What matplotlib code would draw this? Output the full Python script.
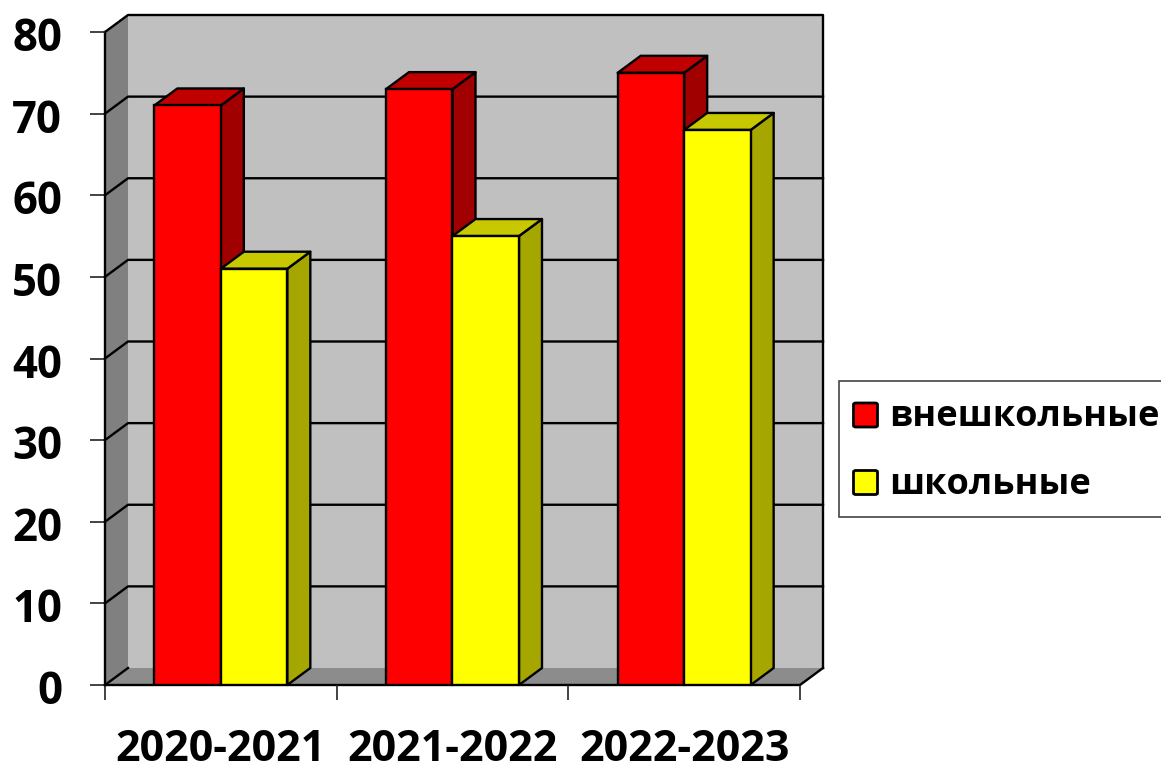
import matplotlib
matplotlib.use("Agg")
import matplotlib.pyplot as plt
from matplotlib.patches import Polygon, Rectangle, FancyBboxPatch
from matplotlib.transforms import ScaledTranslation

categories = ["2020-2021", "2021-2022", "2022-2023"]
series_names = ["внешкольные", "школьные"]
vneshkolnye = [71, 73, 75]
shkolnye = [51, 55, 68]
y_ticks = [0, 10, 20, 30, 40, 50, 60, 70, 80]

W, H = 1161, 765
FONT = ["Open Sans", "DejaVu Sans"]
plt.rcParams["font.family"] = FONT

fig = plt.figure(figsize=(W / 100, H / 100), dpi=100)
L, R, B, T = 105, 800, 685, 32
ax = fig.add_axes([L / W, 1 - B / H, (R - L) / W, (B - T) / H])
ax.set_xlim(0, 3)
ax.set_ylim(0, 80)
ax.patch.set_visible(False)
for s in ax.spines.values():
    s.set_visible(False)

DX = 23 / ((R - L) / 3)
DY = 17 / ((B - T) / 80)
LW = 1.7
EC = "black"


def poly(pts, fc, z):
    ax.add_patch(Polygon(pts, closed=True, fc=fc, ec=EC, lw=LW, zorder=z, clip_on=False, joinstyle="round"))


# walls
ax.add_patch(Polygon([(DX, DY), (3 + DX, DY), (3 + DX, 80 + DY), (DX, 80 + DY)], closed=True,
                     fc="#c0c0c0", ec="none", zorder=1, clip_on=False))
ax.plot([0, DX, 3 + DX, 3 + DX], [80, 80 + DY, 80 + DY, DY], color=EC, lw=LW, zorder=1.2, clip_on=False)
ax.add_patch(Polygon([(0, 0), (DX, DY), (DX, 80 + DY), (0, 80)], closed=True,
                     fc="#808080", ec="none", zorder=1, clip_on=False))
ax.plot([0, 0], [0, 80], color=EC, lw=LW, zorder=1.2, clip_on=False)
ax.add_patch(Polygon([(0, 0), (3, 0), (3 + DX, DY), (DX, DY)], closed=True,
                     fc="#8c8c8c", ec="none", zorder=1, clip_on=False))
ax.plot([0, 3, 3 + DX], [0, 0, DY], color=EC, lw=LW, zorder=1.2, clip_on=False)

# gridlines on walls
for v in y_ticks[1:-1]:
    ax.plot([0, DX, 3 + DX], [v, v + DY, v + DY], color=EC, lw=LW, zorder=2, clip_on=False)
ax.plot([0, DX], [0, DY], color=EC, lw=LW, zorder=2, clip_on=False)

# bars
BW = 0.287
colors = [("#ff0000", "#c00000", "#a00000"), ("#ffff00", "#c8c800", "#a6a600")]
z = 3
for i in range(len(categories)):
    for j, vals in enumerate([vneshkolnye, shkolnye]):
        x0 = i + 0.5 - BW + j * BW
        x1 = x0 + BW
        v = vals[i]
        front, top, side = colors[j]
        poly([(x1, 0), (x1 + DX, DY), (x1 + DX, v + DY), (x1, v)], side, z)
        poly([(x0, v), (x1, v), (x1 + DX, v + DY), (x0 + DX, v + DY)], top, z)
        ax.bar(x0, v, width=BW, align="edge", color=front, edgecolor=EC, linewidth=LW, zorder=z + 1)
        z += 2

# ticks
ax.set_yticks(y_ticks)
ax.set_xticks(range(4))
ax.set_xticklabels([])
ax.tick_params(axis="y", length=11, width=1.2, pad=20, labelsize=31.5, color="#222222")
ax.tick_params(axis="x", length=11, width=1.2, color="#222222")
shift = ScaledTranslation(0, -2 / 100, fig.dpi_scale_trans)
for t in ax.get_yticklabels():
    t.set_fontweight("bold")
    t.set_transform(t.get_transform() + shift)
for i, c in enumerate(categories):
    ax.text(i + 0.5, -7.9, c, ha="center", va="center", fontsize=31, fontweight="bold", zorder=10)

# legend
fig.patches.append(Rectangle((839 / W, 1 - 517 / H), 330 / W, 136 / H, transform=fig.transFigure,
                             fc="white", ec="#444444", lw=1.2))
for name, (fc, _, _), yc in zip(series_names, colors, [415, 482.5]):
    fig.patches.append(FancyBboxPatch((853.5 / W, 1 - (yc + 12) / H), 24 / W, 24 / H,
                                      boxstyle="round,pad=0,rounding_size=0.002",
                                      transform=fig.transFigure, fc=fc, ec=EC, lw=2.0))
    fig.text(889 / W, 1 - (yc + 2.5) / H, name, fontsize=26, fontweight="bold", va="center", ha="left")

fig.savefig("out.png", dpi=100)
